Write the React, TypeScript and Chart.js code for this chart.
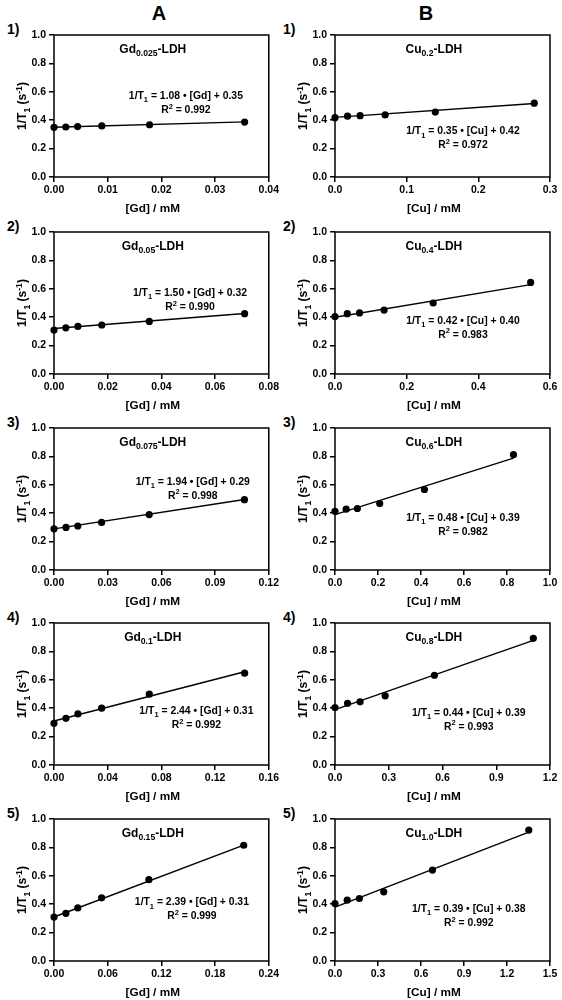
import React, { useEffect, useRef } from "react";
import { Chart, registerables } from "chart.js";

Chart.register(...registerables);

const FONT = '"Liberation Sans", Arial, Helvetica, sans-serif';

// ---------- Column A : Gd-LDH ----------
const gdContents = ["0.025", "0.05", "0.075", "0.1", "0.15"];
const gd1X = [0, 0.0022, 0.0044, 0.0089, 0.0178, 0.0355];
const gd1Y = [0.35, 0.352, 0.355, 0.36, 0.368, 0.387];
const gd2X = [0, 0.0044, 0.0089, 0.0178, 0.0355, 0.071];
const gd2Y = [0.31, 0.325, 0.335, 0.345, 0.37, 0.425];
const gd3X = [0, 0.0067, 0.0133, 0.0266, 0.0532, 0.1064];
const gd3Y = [0.29, 0.3, 0.31, 0.335, 0.39, 0.495];
const gd4X = [0, 0.0089, 0.0178, 0.0355, 0.071, 0.142];
const gd4Y = [0.294, 0.329, 0.36, 0.4, 0.499, 0.647];
const gd5X = [0, 0.0133, 0.0266, 0.0532, 0.106, 0.212];
const gd5Y = [0.31, 0.336, 0.374, 0.445, 0.573, 0.815];
const gdSlopes = [1.08, 1.5, 1.94, 2.44, 2.39];
const gdIntercepts = [0.35, 0.32, 0.29, 0.31, 0.31];
const gdR2 = [0.992, 0.99, 0.998, 0.992, 0.999];
const gdXMax = [0.04, 0.08, 0.12, 0.16, 0.24];
const gdXStep = [0.01, 0.02, 0.03, 0.04, 0.06];

// ---------- Column B : Cu-LDH ----------
const cuContents = ["0.2", "0.4", "0.6", "0.8", "1.0"];
const cu1X = [0, 0.0175, 0.035, 0.07, 0.14, 0.278];
const cu1Y = [0.418, 0.428, 0.432, 0.437, 0.457, 0.52];
const cu2X = [0, 0.0343, 0.0685, 0.137, 0.274, 0.546];
const cu2Y = [0.405, 0.425, 0.43, 0.45, 0.5, 0.645];
const cu3X = [0, 0.052, 0.104, 0.208, 0.416, 0.83];
const cu3Y = [0.413, 0.428, 0.433, 0.468, 0.567, 0.812];
const cu4X = [0, 0.07, 0.14, 0.28, 0.555, 1.107];
const cu4Y = [0.405, 0.435, 0.445, 0.487, 0.632, 0.892];
const cu5X = [0, 0.085, 0.17, 0.34, 0.68, 1.352];
const cu5Y = [0.405, 0.428, 0.44, 0.487, 0.64, 0.922];
const cuSlopes = [0.35, 0.42, 0.48, 0.44, 0.39];
const cuIntercepts = [0.42, 0.4, 0.39, 0.39, 0.38];
const cuR2 = [0.972, 0.983, 0.982, 0.993, 0.992];
const cuXMax = [0.3, 0.6, 1.0, 1.2, 1.5];
const cuXStep = [0.1, 0.2, 0.2, 0.3, 0.3];

const yTickValues = [0, 0.2, 0.4, 0.6, 0.8, 1.0];
const panelNumbers = ["1)", "2)", "3)", "4)", "5)"];

// ---------- layout (positions, not data) ----------
const COL_W = 281;
const CHART_TOPS = [35, 232, 428, 623, 819];
const PLOT_H = 142;
const PAD_TOP = 10;
const CANVAS_H = 190;
const Y_AXIS_W = 54;
const PAD_RIGHT = 12;
const gdEqPos = [
  { fx: 0.614, vy: 0.576 },
  { fx: 0.633, vy: 0.577 },
  { fx: 0.646, vy: 0.628 },
  { fx: 0.663, vy: 0.384 },
  { fx: 0.642, vy: 0.418 },
];
const cuEqPos = [
  { fx: 0.595, vy: 0.326 },
  { fx: 0.595, vy: 0.381 },
  { fx: 0.595, vy: 0.37 },
  { fx: 0.622, vy: 0.374 },
  { fx: 0.622, vy: 0.369 },
];

type Seg = { t: string; k?: "sub" | "sup" };

function drawRich(ctx: CanvasRenderingContext2D, segs: Seg[], cx: number, cy: number, size: number) {
  const fontFor = (s: Seg) => `bold ${s.k ? size * 0.72 : size}px ${FONT}`;
  const widths = segs.map((s) => {
    ctx.font = fontFor(s);
    return ctx.measureText(s.t).width;
  });
  const total = widths.reduce((a, b) => a + b, 0);
  let x = cx - total / 2;
  const base = cy + size * 0.36;
  ctx.textAlign = "left";
  ctx.textBaseline = "alphabetic";
  segs.forEach((s, i) => {
    ctx.font = fontFor(s);
    const dy = s.k === "sub" ? size * 0.3 : s.k === "sup" ? -size * 0.4 : 0;
    ctx.fillText(s.t, x, base + dy);
    x += widths[i];
  });
}

const decorPlugin = {
  id: "decor",
  afterDraw(chart: any, _args: any, opts: any) {
    const { ctx, chartArea: a, scales } = chart;
    const w = a.right - a.left;
    ctx.save();
    ctx.fillStyle = "#000";
    ctx.strokeStyle = "#000";
    ctx.lineWidth = 1.5;
    ctx.strokeRect(a.left, a.top, w, a.bottom - a.top);

    // panel title
    drawRich(
      ctx,
      [{ t: opts.metal }, { t: opts.content, k: "sub" }, { t: "-LDH" }],
      a.left + 0.46 * w,
      scales.y.getPixelForValue(0.905),
      12
    );
    // equation
    const ex = a.left + opts.eqPos.fx * w;
    const ey = scales.y.getPixelForValue(opts.eqPos.vy);
    drawRich(
      ctx,
      [
        { t: "1/T" },
        { t: "1", k: "sub" },
        { t: ` = ${opts.slope.toFixed(2)} \u2022 [${opts.metal}] + ${opts.intercept.toFixed(2)}` },
      ],
      ex,
      ey,
      10.4
    );
    drawRich(ctx, [{ t: "R" }, { t: "2", k: "sup" }, { t: ` = ${opts.r2.toFixed(3)}` }], ex, ey + 14, 10.4);

    // x-axis title
    drawRich(ctx, [{ t: `[${opts.metal}] / mM` }], a.left + 0.46 * w, a.bottom + 31, 11.8);

    // y-axis title (rotated)
    ctx.translate(22, (a.top + a.bottom) / 2);
    ctx.rotate(-Math.PI / 2);
    drawRich(ctx, [{ t: "1/T" }, { t: "1", k: "sub" }, { t: " (s" }, { t: "-1", k: "sup" }, { t: ")" }], 0, 0, 12);
    ctx.restore();
  },
};

type PanelProps = {
  col: number;
  row: number;
  metal: string;
  content: string;
  xs: number[];
  ys: number[];
  slope: number;
  intercept: number;
  r2: number;
  xMax: number;
  xStep: number;
  decimals: number;
  eqPos: { fx: number; vy: number };
};

function Panel(p: PanelProps) {
  const ref = useRef<HTMLCanvasElement | null>(null);
  useEffect(() => {
    if (!ref.current) return;
    const lastX = p.xs[p.xs.length - 1];
    const tickFont = { family: FONT, size: 10.5, weight: "bold" as const };
    const grid = {
      display: true,
      drawOnChartArea: false,
      drawTicks: true,
      tickLength: 5,
      color: "#000",
      lineWidth: 1.5,
    };
    const chart = new Chart(ref.current, {
      type: "scatter",
      data: {
        datasets: [
          {
            type: "line",
            data: [
              { x: 0, y: p.intercept },
              { x: lastX, y: p.slope * lastX + p.intercept },
            ],
            borderColor: "#000",
            borderWidth: 1.4,
            pointRadius: 0,
            fill: false,
            clip: false,
          } as any,
          {
            type: "scatter",
            data: p.xs.map((x, i) => ({ x, y: p.ys[i] })),
            backgroundColor: "#000",
            borderColor: "#000",
            borderWidth: 0,
            pointRadius: 3.6,
            clip: false,
          } as any,
        ],
      },
      options: {
        animation: false,
        responsive: false,
        devicePixelRatio: 1,
        layout: { padding: { top: PAD_TOP, right: PAD_RIGHT, left: 0, bottom: 0 } },
        plugins: {
          legend: { display: false },
          tooltip: { enabled: false },
          decor: {
            metal: p.metal,
            content: p.content,
            slope: p.slope,
            intercept: p.intercept,
            r2: p.r2,
            eqPos: p.eqPos,
          },
        } as any,
        scales: {
          x: {
            type: "linear",
            min: 0,
            max: p.xMax,
            grid,
            border: { display: false },
            ticks: {
              color: "#000",
              font: tickFont,
              padding: 2,
              maxRotation: 0,
              autoSkip: false,
              callback: (v: any) => Number(v).toFixed(p.decimals),
            },
            afterBuildTicks: (scale: any) => {
              const n = Math.round(p.xMax / p.xStep);
              const t = [];
              for (let i = 0; i <= n; i++) t.push({ value: +(i * p.xStep).toFixed(6) });
              scale.ticks = t;
            },
            afterFit: (scale: any) => {
              scale.height = CANVAS_H - PAD_TOP - PLOT_H;
            },
          },
          y: {
            type: "linear",
            min: 0,
            max: 1,
            grid,
            border: { display: false },
            ticks: {
              color: "#000",
              font: tickFont,
              padding: 3,
              callback: (v: any) => Number(v).toFixed(1),
            },
            afterBuildTicks: (scale: any) => {
              scale.ticks = yTickValues.map((v) => ({ value: v }));
            },
            afterFit: (scale: any) => {
              scale.width = Y_AXIS_W;
            },
          },
        },
      },
      plugins: [decorPlugin],
    } as any);
    return () => chart.destroy();
  }, []);

  return (
    <canvas
      ref={ref}
      width={COL_W}
      height={CANVAS_H}
      style={{
        position: "absolute",
        left: p.col * COL_W,
        top: CHART_TOPS[p.row] - PAD_TOP,
        width: COL_W,
        height: CANVAS_H,
      }}
    />
  );
}

const textStyle: React.CSSProperties = {
  position: "absolute",
  fontFamily: FONT,
  fontWeight: "bold",
  color: "#000",
  lineHeight: 1,
  whiteSpace: "nowrap",
};

export default function App() {
  const gdXs = [gd1X, gd2X, gd3X, gd4X, gd5X];
  const gdYs = [gd1Y, gd2Y, gd3Y, gd4Y, gd5Y];
  const cuXs = [cu1X, cu2X, cu3X, cu4X, cu5X];
  const cuYs = [cu1Y, cu2Y, cu3Y, cu4Y, cu5Y];
  return (
    <div style={{ position: "absolute", left: 0, top: 0, width: 562, height: 1000, background: "#fff" }}>
      <div style={{ ...textStyle, left: 159, top: 12.5, fontSize: 20, transform: "translate(-50%,-50%)" }}>A</div>
      <div style={{ ...textStyle, left: 426, top: 12.5, fontSize: 20, transform: "translate(-50%,-50%)" }}>B</div>
      {panelNumbers.map((n, r) => (
        <React.Fragment key={"n" + r}>
          <div style={{ ...textStyle, left: 7, top: CHART_TOPS[r] - 6, fontSize: 14, transform: "translateY(-50%)" }}>{n}</div>
          <div style={{ ...textStyle, left: 283, top: CHART_TOPS[r] - 6, fontSize: 14, transform: "translateY(-50%)" }}>{n}</div>
        </React.Fragment>
      ))}
      {gdContents.map((c, r) => (
        <Panel
          key={"gd" + r}
          col={0}
          row={r}
          metal="Gd"
          content={c}
          xs={gdXs[r]}
          ys={gdYs[r]}
          slope={gdSlopes[r]}
          intercept={gdIntercepts[r]}
          r2={gdR2[r]}
          xMax={gdXMax[r]}
          xStep={gdXStep[r]}
          decimals={2}
          eqPos={gdEqPos[r]}
        />
      ))}
      {cuContents.map((c, r) => (
        <Panel
          key={"cu" + r}
          col={1}
          row={r}
          metal="Cu"
          content={c}
          xs={cuXs[r]}
          ys={cuYs[r]}
          slope={cuSlopes[r]}
          intercept={cuIntercepts[r]}
          r2={cuR2[r]}
          xMax={cuXMax[r]}
          xStep={cuXStep[r]}
          decimals={1}
          eqPos={cuEqPos[r]}
        />
      ))}
    </div>
  );
}
